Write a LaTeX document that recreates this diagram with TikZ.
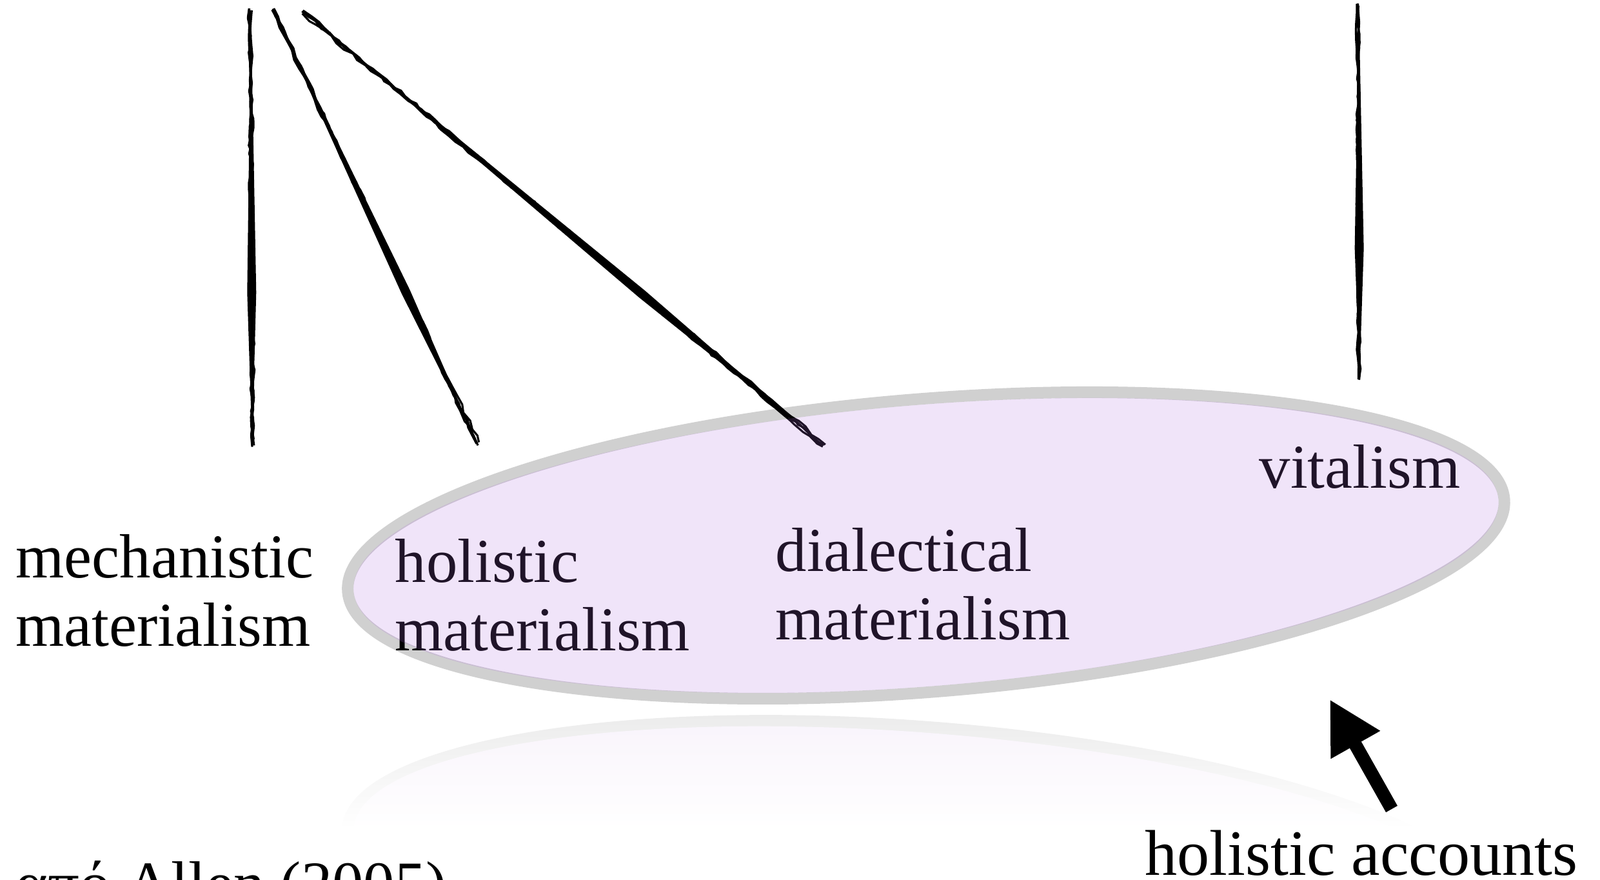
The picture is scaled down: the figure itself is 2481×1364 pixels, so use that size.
\documentclass[tikz,border=0pt]{standalone}
\usepackage{fontspec}
\setmainfont{Liberation Serif}
\usetikzlibrary{positioning,calc,arrows.meta,decorations.pathmorphing}

\definecolor{ovalgray}{HTML}{D0D0D0}
\definecolor{ovalpurple}{HTML}{AE6EDD}
\definecolor{reflgray}{HTML}{EBEBEB}
\definecolor{reflfill}{HTML}{F8F3FB}

\begin{document}
\begin{tikzpicture}[x=0.01cm, y=-0.01cm,
    labeltext/.style={inner sep=0pt, anchor=base west, align=left,
      font=\fontsize{27.5pt}{30pt}\selectfont},
    sketchy/.style={line width=0.9pt, decorate,
      decoration={random steps, segment length=4pt, amplitude=0.7pt}}]
  \useasboundingbox (0,0) rectangle (2481,1364);

  % Centres of the oval and of its reflection
  \coordinate (ovalC) at (1436,845.5);
  \coordinate (reflC) at (1436,1354.5);

  % Faded reflection below the oval
  \begin{scope}
    \clip[rotate around={-4.57:(reflC)}] (reflC) ellipse [x radius=9.08cm, y radius=2.36cm];
    \shade[top color=reflgray, bottom color=white] (480,1100) rectangle (2400,1285);
  \end{scope}
  \begin{scope}
    \clip[rotate around={-4.57:(reflC)}] (reflC) ellipse [x radius=8.90cm, y radius=2.18cm];
    \shade[top color=reflfill, bottom color=white] (480,1100) rectangle (2400,1285);
  \end{scope}

  % Grey rim of the oval
  \draw[ovalgray, line width=0.18cm, rotate around={4.57:(ovalC)}]
    (ovalC) ellipse [x radius=8.99cm, y radius=2.27cm];

  % Ends of the four strokes
  \coordinate (topA) at (389,14);   \coordinate (endA) at (391,690);
  \coordinate (topB) at (424,16);   \coordinate (endB) at (740,688);
  \coordinate (topC) at (471,19);   \coordinate (endC) at (1278,691);
  \coordinate (topD) at (2107,8);   \coordinate (endD) at (2108,588);

  % Pencil strokes
  \foreach \a/\b in {topA/endA, topB/endB, topC/endC, topD/endD} {
    \fill (\a) -- ($(\a)!0.65!(\b)!0.07cm!90:(\b)$) -- (\b)
      -- ($(\a)!0.65!(\b)!0.07cm!-90:(\b)$) -- cycle;
    \foreach \k in {1,...,4}
      \draw[sketchy] ($(\a)+(rand*3,rand*3)$) -- ($(\b)+(rand*3,rand*3)$);
  }

  % Labels
  \node[labeltext] (mech) at (24,1001) {mechanistic\\materialism};
  \node[labeltext] (holmat) at (612,1008) {holistic\\materialism};
  \node[labeltext] (dialmat) at (1202,991) {dialectical\\materialism};
  \node[labeltext] (vital) at (1952,756) {vitalism};

  % Tinted inside of the oval
  \fill[ovalpurple, fill opacity=0.19, rotate around={4.57:(ovalC)}]
    (ovalC) ellipse [x radius=8.90cm, y radius=2.18cm];

  % Pointer and caption
  \node[labeltext, font=\fontsize{28.5pt}{31pt}\selectfont] (acc) at (1775,1356) {holistic accounts};
  \coordinate (arrTail) at (2158,1254);
  \coordinate (arrTip) at (2062,1084);
  \draw[line width=0.205cm, -{Triangle[length=0.81cm, width=0.82cm]}] (arrTail) -- (arrTip);

  \node[labeltext] (src) at (23,1402) {από Allen (2005)};
\end{tikzpicture}
\end{document}
